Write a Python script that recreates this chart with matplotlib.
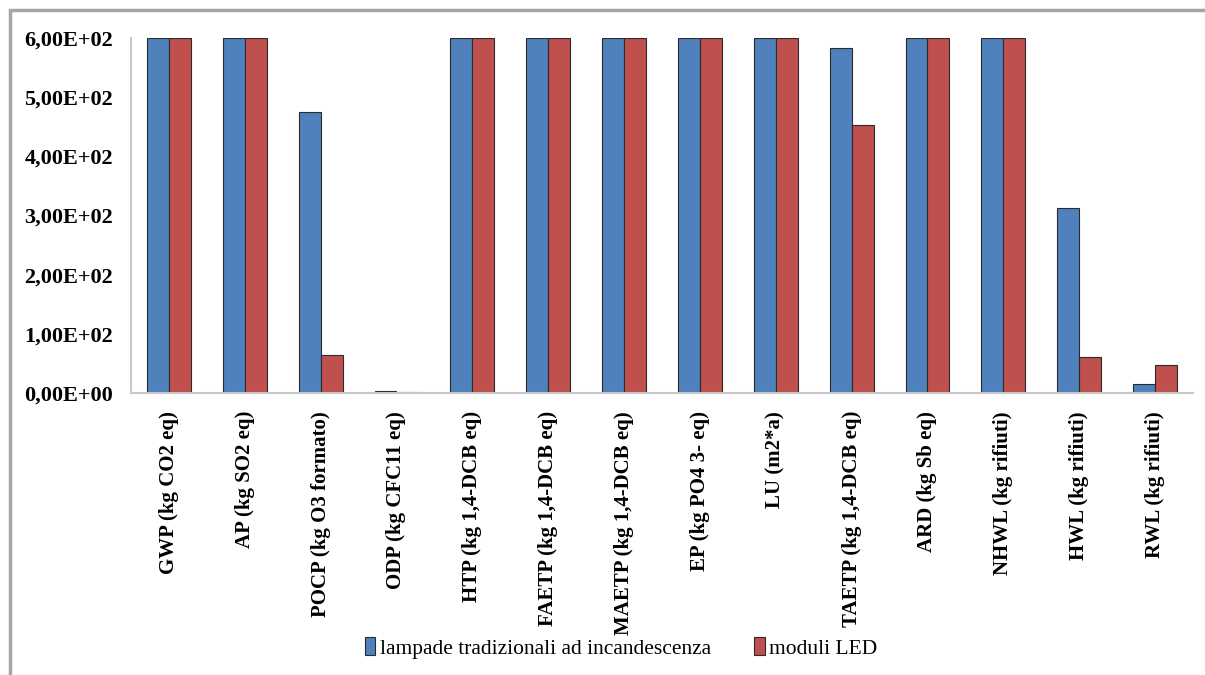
import matplotlib
matplotlib.use("Agg")
import matplotlib.pyplot as plt
from matplotlib.patches import Rectangle
from matplotlib.ticker import FuncFormatter
import numpy as np

categories = [
    "GWP (kg CO2 eq)", "AP (kg SO2 eq)", "POCP (kg O3 formato)",
    "ODP (kg CFC11 eq)", "HTP (kg 1,4-DCB eq)", "FAETP (kg 1,4-DCB eq)",
    "MAETP (kg 1,4-DCB eq)", "EP (kg PO4 3- eq)", "LU (m2*a)",
    "TAETP (kg 1,4-DCB eq)", "ARD (kg Sb eq)", "NHWL (kg rifiuti)",
    "HWL (kg rifiuti)", "RWL (kg rifiuti)",
]
# values above the axis limit are cut at 600
lampade = [600, 600, 475, 3, 600, 600, 600, 600, 600, 583, 600, 600, 313, 15]
led = [600, 600, 64, 2, 600, 600, 600, 600, 600, 453, 600, 600, 61, 47]
series_names = ["lampade tradizionali ad incandescenza", "moduli LED"]

plt.rcParams["font.family"] = ["Liberation Serif", "DejaVu Serif"]

fig = plt.figure(figsize=(12.05, 6.75), dpi=100)
ax = fig.add_axes([131 / 1205, 1 - 393 / 675, 1062 / 1205, 355 / 675])

# outer chart frame
fig.patches.append(Rectangle((10 / 1205, -0.05), 1.2, 1.05 - 10 / 675,
                             transform=fig.transFigure, fill=False,
                             edgecolor="#a6a6a6", linewidth=2.5))

x = np.arange(len(categories))
w = 0.29
ax.bar(x - w / 2, lampade, w, color="#4F81BD", edgecolor="#2b2b2b",
       linewidth=0.8, label=series_names[0])
ax.bar(x + w / 2, led, w, color="#C0504D", edgecolor="#2b2b2b",
       linewidth=0.8, label=series_names[1])

ax.set_xlim(-0.5, len(categories) - 0.5)
ax.set_ylim(0, 600)
ax.set_yticks(np.arange(0, 601, 100))
ax.yaxis.set_major_formatter(
    FuncFormatter(lambda v, _: f"{v:.2E}".replace(".", ",")))
ax.set_xticks(x)
ax.set_xticklabels(categories, rotation=90, fontsize=15, fontweight="bold",
                   va="top")

for lbl in ax.get_yticklabels():
    lbl.set_fontweight("bold")
    lbl.set_fontsize(16)

ax.tick_params(axis="both", length=0)
ax.tick_params(axis="y", pad=13)
ax.tick_params(axis="x", pad=13)

for side in ["top", "right"]:
    ax.spines[side].set_visible(False)
for side in ["left", "bottom"]:
    ax.spines[side].set_color("#c8c8c8")
    ax.spines[side].set_linewidth(1.5)

fig.legend(loc="center", bbox_to_anchor=(621 / 1205, 1 - 648 / 675),
           ncol=2, frameon=False, fontsize=15.5, handlelength=0.5,
           handleheight=0.9, handletextpad=0.2, columnspacing=2.0)

fig.savefig("out.png", dpi=100, facecolor="white")
